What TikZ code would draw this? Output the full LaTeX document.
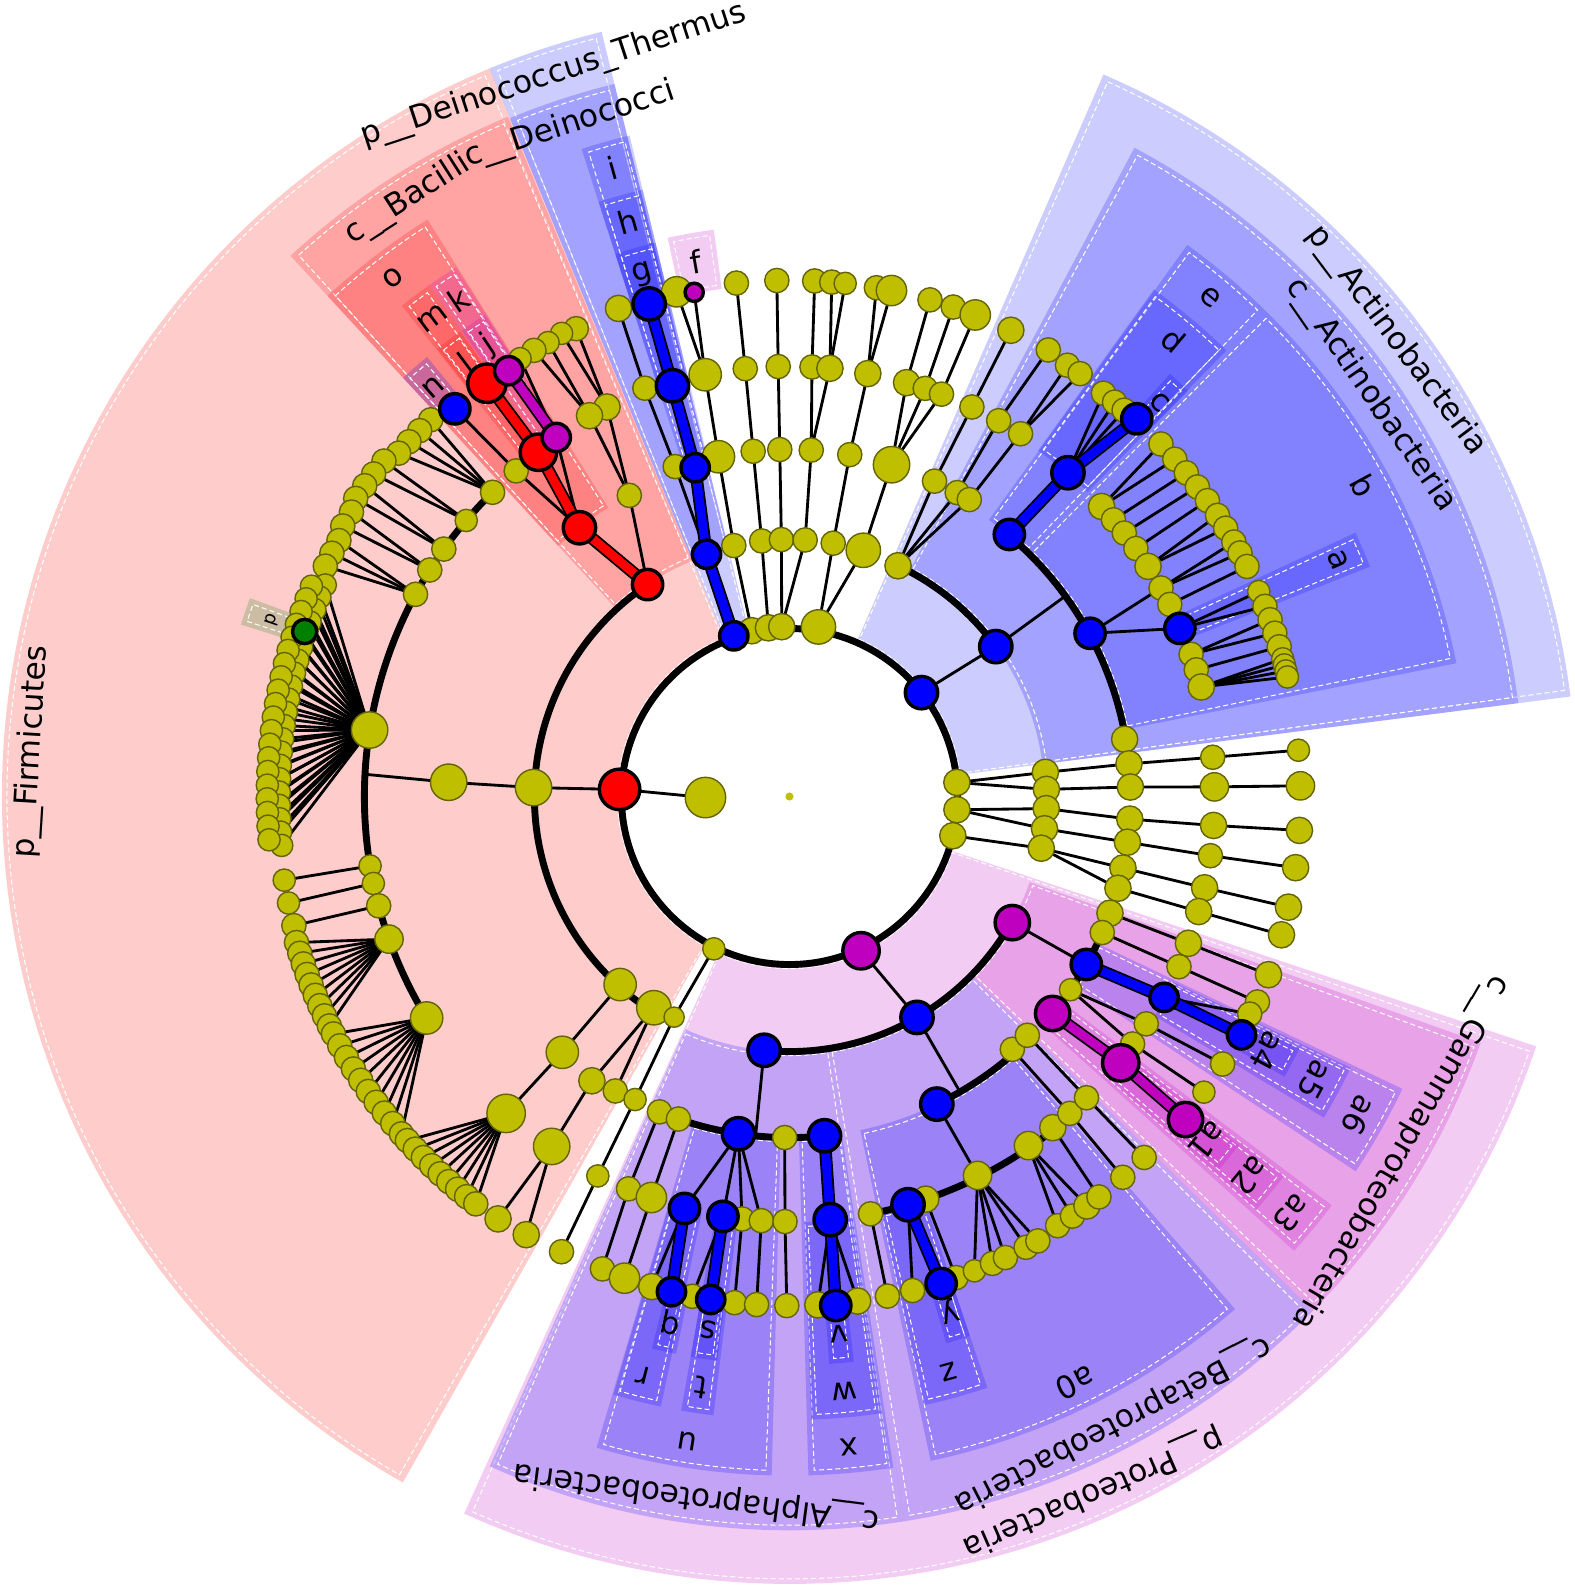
\documentclass[tikz,border=0pt]{standalone}
\usepackage{fontspec}
\setmainfont{DejaVu Sans}
\definecolor{olv}{RGB}{191,191,0}
\definecolor{olvd}{RGB}{100,100,0}
\definecolor{mag}{RGB}{191,0,191}
\definecolor{grn}{RGB}{0,128,0}
\definecolor{blu}{RGB}{0,0,255}
\definecolor{rd}{RGB}{255,0,0}
\tikzset{
  edge/.style={line width=1.4pt, draw=black},
  arcl/.style={line width=3.4pt, draw=black},
  ynode/.style={fill=olv, draw=olvd, line width=0.7pt},
  bnode/.style={draw=black, line width=1.7pt},
  lbl/.style={font=\fontsize{15.5}{18}\selectfont, inner sep=0pt},
  wb/.style={draw=white, line width=0.5pt, dash pattern=on 2.5pt off 1.5pt},
}
\newcommand{\wdg}[5]{%
  \fill[#5, fill opacity=0.2] (#1:#3) arc[start angle=#1, end angle=#2, radius=#3] -- (#2:#4) arc[start angle=#2, end angle=#1, radius=#4] -- cycle;
  \draw[wb] ({#1+0.5}:{#3+4}) arc[start angle={#1+0.5}, end angle={#2-0.5}, radius={#3+4}] -- ({#2-0.5}:{#4-5}) arc[start angle={#2-0.5}, end angle={#1+0.5}, radius={#4-5}] -- cycle;}
\newcommand{\edg}[4]{\draw[edge] (#1:#2) -- (#3:#4);}
\newcommand{\brc}[3]{\draw[arcl] (#1:#3) arc[start angle=#1, end angle=#2, radius=#3];}
\newcommand{\tke}[5]{\draw[line width=6.2pt, black] (#1:#2) -- (#3:#4); \draw[line width=4.4pt, #5] (#1:#2) -- (#3:#4);}
\newcommand{\ynd}[3]{\path[ynode] (#1:#2) circle (#3);}
\newcommand{\bnd}[4]{\path[bnode, fill=#4] (#1:#2) circle (#3);}
\newcommand{\lbl}[4]{\node[lbl, rotate={#2-90}] (#1) at (#2:#3) {#4};}
\begin{document}
\begin{tikzpicture}[x=0.5pt,y=0.5pt]
\useasboundingbox (0,0) rectangle (1556,1568);
\begin{scope}[shift={(780,781)}]
% ================= WEDGES =================
% phylum
\wdg{112.4}{240.6}{166}{778}{rd}
\wdg{103.8}{112.4}{166}{778}{blu}
\wdg{7.3}{66.5}{166}{778}{blu}
\wdg{-114.4}{-18.5}{166}{778}{mag}
% class
\wdg{112.5}{132.7}{252}{727}{rd}
\wdg{103.8}{112.4}{252}{725}{blu}
\wdg{7.3}{62}{252}{726}{blu}
\wdg{-114.1}{-81}{252}{725}{blu}
\wdg{-81}{-44.5}{252}{725}{blu}
\wdg{-44.5}{-19.6}{252}{725}{mag}
% order
\wdg{122.1}{132.7}{337}{673}{rd}
\wdg{103.6}{107.8}{337}{672}{blu}
\wdg{45.6}{54.2}{337}{672}{blu}
\wdg{11.3}{45.6}{337}{672}{blu}
\wdg{-106.5}{-91.5}{337}{671}{blu}
\wdg{-88.4}{-81.2}{337}{671}{blu}
\wdg{-78}{-49}{337}{671}{blu}
\wdg{-42}{-37}{337}{671}{mag}
\wdg{-33.5}{-25.5}{337}{671}{blu}
% family
\wdg{125.2}{128.3}{421}{618}{rd}
\wdg{122.2}{125.2}{421}{618}{mag}
\wdg{103.6}{107.8}{421}{617}{blu}
\wdg{45.6}{54.3}{421}{617}{blu}
\wdg{21.6}{25}{421}{617}{blu}
\wdg{-106.4}{-101.9}{421}{616}{blu}
\wdg{-100}{-97}{421}{616}{blu}
\wdg{-88}{-81.5}{421}{616}{blu}
\wdg{-77.5}{-71.5}{421}{616}{blu}
\wdg{-41.5}{-37.5}{421}{616}{mag}
\wdg{-31}{-25.8}{421}{616}{blu}
% genus
\wdg{125.3}{128.2}{506}{563}{rd}
\wdg{122.3}{125.1}{506}{563}{mag}
\wdg{129.5}{132.7}{506}{563}{blu}
\wdg{103.6}{107.8}{506}{563}{blu}
\wdg{97.6}{102.3}{506}{565}{mag}
\wdg{159.8}{162.6}{506}{568}{grn}
\wdg{45.5}{48}{506}{562}{blu}
\wdg{-104}{-101.5}{506}{562}{blu}
\wdg{-100}{-97.3}{506}{562}{blu}
\wdg{-86}{-83.5}{506}{562}{blu}
\wdg{-74}{-71.5}{506}{562}{blu}
\wdg{-41}{-37.8}{506}{562}{mag}
\wdg{-29.5}{-26.3}{506}{562}{blu}
% ================= LABELS =================
\lbl{pF}{176.6}{750}{p\_\_Firmicutes}
\lbl{pD}{108.1}{750}{p\_\_Deinococcus\_Thermus}
\lbl{pA}{36.9}{750}{p\_\_Actinobacteria}
\lbl{pP}{-66.45}{750}{p\_\_Proteobacteria}
\lbl{cB}{122.6}{700}{c\_\_Bacilli}
\lbl{cD}{108.1}{698}{c\_\_Deinococci}
\lbl{cA}{34.65}{698}{c\_\_Actinobacteria}
\lbl{cAl}{-97.55}{698}{c\_\_Alphaproteobacteria}
\lbl{cBe}{-62.75}{698}{c\_\_Betaproteobacteria}
\lbl{cG}{-30.2}{698}{c\_\_Gammaproteobacteria}
\lbl{la}{23.3}{590}{a}
\lbl{lb}{28.4}{645}{b}
\lbl{lc}{46.8}{535}{c}
\lbl{ld}{49.9}{590}{d}
\lbl{le}{49.9}{645}{e}
\lbl{lf}{99.95}{536}{f}
\lbl{lg}{105.7}{536}{g}
\lbl{lh}{105.7}{590}{h}
\lbl{li}{105.7}{645}{i}
\lbl{lj}{123.7}{536}{j}
\lbl{lk}{123.7}{590}{k}
\lbl{ll}{126.75}{536}{l}
\lbl{lm}{126.75}{590}{m}
\lbl{ln}{131.1}{536}{n}
\lbl{lo}{127.4}{645}{o}
\node[font=\fontsize{9}{10}\selectfont, inner sep=0pt, rotate=71.2] (lp) at (161.2:540) {p};
\lbl{lq}{-102.75}{533}{q}
\lbl{lr}{-104.15}{590}{r}
\lbl{ls}{-98.65}{533}{s}
\lbl{lt}{-98.5}{590}{t}
\lbl{lu}{-99}{645}{u}
\lbl{lv}{-84.75}{533}{v}
\lbl{lw}{-84.75}{590}{w}
\lbl{lx}{-84.8}{645}{x}
\lbl{ly}{-72.75}{533}{y}
\lbl{lz}{-74.5}{590}{z}
\lbl{la0}{-64}{645}{a0}
\lbl{la1}{-39.5}{535}{a1}
\lbl{la2}{-39.5}{590}{a2}
\lbl{la3}{-39.7}{645}{a3}
\lbl{la4}{-28}{535}{a4}
\lbl{la5}{-28.4}{590}{a5}
\lbl{la6}{-29.2}{645}{a6}
% ================= THIN EDGES =================
\edg{180.7}{83}{177.6}{166}
% Firmicutes
\edg{177.6}{166}{178}{252}
\edg{123.8}{252}{118}{337}
\edg{128}{337}{123}{423}
\edg{128}{337}{130}{420}
\edg{118}{337}{115.1}{425}
\edg{118}{337}{117.7}{425}
\edg{130}{420}{130.8}{506}
\edg{115.1}{425}{114.5}{508}
\edg{115.1}{425}{116.2}{510}
\edg{117.7}{425}{118}{508}
\edg{117.7}{425}{119.8}{508}
\edg{123}{423}{121.6}{508}
\edg{178}{252}{177.6}{337}
\edg{177.6}{337}{177}{420}
\foreach \a in {133.6,135.3,137,138.7} {\edg{134.3}{420}{\a}{514}}
\foreach \a in {140.4,142.2} {\edg{139.5}{420}{\a}{520}}
\foreach \a in {143.8,145.5} {\edg{144.4}{420}{\a}{520}}
\foreach \a in {147,148.8} {\edg{147.8}{420}{\a}{516}}
\foreach \a in {150.4,152,153.6} {\edg{151.6}{420}{\a}{512}}
\foreach \a in {155.5,157,...,185.5} {\edg{171}{420}{\a}{504}}
\foreach \a in {156.25,157.75,...,184.75} {\edg{171}{420}{\a}{516}}
\edg{189.4}{420}{189.4}{506}
\edg{191.8}{420}{192}{506}
\edg{194.9}{420}{194.6}{506}
\foreach \a in {196.5,197.75,...,206.5} {\edg{199.6}{420}{\a}{508}}
\foreach \a in {207.5,209,...,221} {\edg{211.4}{420}{\a}{508}}
\edg{228}{250}{228.4}{338}
\edg{228.4}{338}{228.2}{420}
\foreach \a in {222,223.3,...,233} {\edg{228.2}{420}{\a}{508}}
\edg{237.3}{248}{235.2}{342}
\edg{237.3}{248}{239.4}{338}
\edg{235.2}{342}{235.8}{418}
\edg{235.8}{418}{235.4}{507}
\edg{235.8}{418}{239}{505}
% gap phylum
\edg{-116.4}{166}{-117.6}{246}
\edg{-117.6}{246}{-117}{336}
\edg{-117}{336}{-116.8}{420}
\edg{-116.8}{420}{-116.6}{503}
% Deinococcus
\edg{108.9}{253}{109.1}{345}
\edg{109.1}{345}{109.5}{428}
\edg{109.5}{428}{109.3}{511}
% top region
\edg{102.8}{168}{102.5}{254}
\edg{97.1}{168}{96.2}{254}
\edg{92.6}{168}{91.8}{254}
\edg{92.6}{168}{86.5}{254}
\edg{80.3}{170}{80.2}{254}
\edg{80.3}{170}{73.3}{254}
\edg{102.5}{254}{101.8}{343}
\edg{96.2}{254}{96}{343}
\edg{91.8}{254}{91.6}{343}
\edg{86.5}{254}{86.4}{343}
\edg{80.2}{254}{80}{343}
\edg{73.3}{254}{72.9}{343}
\edg{101.8}{343}{101.3}{425}
\edg{96}{343}{95.9}{425}
\edg{91.6}{343}{91.5}{425}
\edg{86.4}{343}{87}{425}
\edg{86.4}{343}{84.6}{425}
\edg{80}{343}{79.5}{425}
\edg{72.9}{343}{74.2}{425}
\edg{72.9}{343}{71.6}{425}
\edg{72.9}{343}{69.3}{425}
\edg{101.3}{425}{102.6}{511}
\edg{101.3}{425}{100.7}{507}
\edg{95.9}{425}{95.9}{510}
\edg{91.5}{425}{91.4}{510}
\edg{87}{425}{87.2}{510}
\edg{84.6}{425}{85.3}{510}
\edg{84.6}{425}{83.8}{510}
\edg{79.5}{425}{80.3}{510}
\edg{79.5}{425}{78.6}{510}
\edg{74.2}{425}{74.2}{510}
\edg{71.6}{425}{71.5}{510}
\edg{69.3}{425}{68.9}{510}
% Actinobacteria
\edg{38.2}{166}{36}{252}
\edg{36}{252}{36}{337}
\edg{64.8}{252}{65.3}{343}
\edg{64.8}{252}{61.1}{343}
\edg{64.8}{252}{58.8}{343}
\edg{65.3}{343}{64.9}{425}
\edg{61.1}{343}{60.9}{425}
\edg{58.8}{343}{57.5}{425}
\edg{64.9}{425}{64.6}{510}
\edg{60.9}{425}{59.9}{510}
\edg{57.5}{425}{57.2}{507}
\edg{57.5}{425}{55.5}{507}
\edg{49.3}{422}{52.1}{505}
\edg{49.3}{422}{50.5}{505}
\edg{49.3}{422}{49.1}{505}
\edg{28.5}{338}{29.3}{420}
\edg{28.5}{338}{23.3}{420}
\edg{42.9}{421}{43.5}{506}
\edg{42.9}{421}{41.2}{506}
\edg{40.5}{421}{39.2}{506}
\edg{38.2}{421}{37.2}{506}
\edg{35.6}{421}{35.3}{506}
\edg{32.7}{421}{33.3}{506}
\edg{32.7}{421}{31.6}{506}
\edg{29.3}{421}{29.8}{506}
\edg{29.3}{421}{28.4}{506}
\edg{26.8}{421}{26.7}{506}
\edg{23.3}{420}{23.6}{506}
\edg{23.3}{420}{21.8}{506}
\edg{19.5}{421}{20.2}{506}
\edg{19.5}{421}{18.6}{506}
\edg{17.3}{421}{17}{506}
\foreach \a in {13.5,14.2,14.9,15.6} {\edg{14.9}{421}{\a}{506}}
% right unclassified
\edg{4.8}{166}{5.4}{254}
\edg{4.8}{166}{1.6}{254}
\edg{-4.5}{166}{-2.7}{254}
\edg{-4.5}{166}{-7.2}{254}
\edg{-13.5}{166}{-11.6}{254}
\edg{5.4}{254}{5.5}{337}
\edg{1.6}{254}{1.6}{337}
\edg{-2.7}{254}{-3.8}{337}
\edg{-7.2}{254}{-7.7}{337}
\edg{-11.6}{254}{-12.1}{337}
\edg{-11.6}{254}{-15.6}{337}
\foreach \o/\f/\g in {5.5/5.3/5.2, 1.6/1.3/1.2, -3.8/-3.9/-3.8, -7.7/-8/-8, -12.1/-12.4/-12.5, -15.6/-15.7/-15.7} {\edg{\o}{337}{\f}{420}\edg{\f}{420}{\g}{505}}
% Proteobacteria
\edg{-65.1}{168}{-60}{252}
\edg{-29.5}{253}{-29.5}{337}
\edg{-20}{337}{-20.2}{420}
\edg{-20.2}{420}{-20.4}{505}
\edg{-23.5}{337}{-23.6}{420}
\edg{-23.6}{420}{-23.7}{505}
\edg{-34.5}{337}{-32.5}{418}
\edg{-34.5}{337}{-35.8}{418}
\edg{-32.5}{418}{-31.7}{503}
\edg{-35.8}{418}{-35.5}{503}
\edg{-28.2}{420}{-25.3}{503}
\edg{-60}{252}{-60}{337}
\edg{-64.4}{337}{-63.6}{418}
\edg{-48.6}{333}{-48.5}{418}
\edg{-45.1}{333}{-45.4}{418}
\edg{-79}{420}{-78.9}{503}
\edg{-73.8}{420}{-76}{503}
\edg{-71.3}{420}{-70.9}{503}
\foreach \a in {-68.7,-66.5,-64.9,-62.3,-60.8} {\edg{-63.6}{418}{\a}{503}}
\foreach \a in {-58,-56,-54} {\edg{-55.6}{418}{\a}{500}}
\edg{-51.5}{418}{-52.3}{500}
\edg{-48.5}{418}{-48.8}{500}
\edg{-45.4}{418}{-45.5}{500}
\edg{-95.7}{252}{-95.7}{337}
\edg{-112.4}{337}{-112.3}{419}
\edg{-112.3}{419}{-111.6}{502}
\edg{-109}{337}{-109}{419}
\edg{-109}{419}{-108.9}{503}
\edg{-98.6}{337}{-104.3}{420}
\edg{-98.6}{337}{-99}{420}
\edg{-98.6}{337}{-96.4}{420}
\edg{-98.6}{337}{-93.8}{420}
\edg{-104.3}{420}{-105.7}{503}
\edg{-99}{420}{-101}{503}
\edg{-96.4}{420}{-96.2}{503}
\edg{-93.8}{420}{-93.7}{503}
\edg{-90.8}{337}{-90.6}{420}
\edg{-90.6}{420}{-90.3}{503}
\edg{-84.5}{420}{-86.8}{503}
\edg{-84.5}{420}{-82.3}{503}
% ================= ARCS =================
\draw[arcl] (0,0) circle (166);
\brc{123.8}{237.3}{252}
\brc{134.3}{211.4}{420}
\brc{36}{64.8}{252}
\brc{9.7}{50}{337}
\brc{14.9}{42.9}{421}
\brc{-95.7}{-29.5}{252}
\brc{-39.5}{-20}{337}
\brc{-64.4}{-45.1}{337}
\brc{-79}{-51.5}{420}
\brc{-112.4}{-84.1}{337}
% ================= COLOURED EDGES =================
\tke{109.1}{168}{108.9}{253}{blu}
\tke{108.9}{253}{106}{338}{blu}
\tke{106}{338}{105.9}{422}{blu}
\tke{105.9}{422}{105.9}{506}{blu}
\tke{50}{338}{49.3}{422}{blu}
\tke{49.3}{422}{47.4}{507}{blu}
\tke{-104.3}{420}{-103.4}{503}{blu}
\tke{-99}{420}{-98.9}{503}{blu}
\tke{-84.1}{337}{-84.5}{420}{blu}
\tke{-84.5}{420}{-84.8}{505}{blu}
\tke{-73.8}{420}{-72.7}{504}{blu}
\tke{-29.5}{337}{-28.2}{420}{blu}
\tke{-28.2}{420}{-27.8}{505}{blu}
\tke{123.8}{252}{128}{337}{rd}
\tke{128}{337}{126.1}{421}{rd}
\tke{126.1}{421}{126.2}{506}{rd}
\tke{123}{423}{123.4}{504}{mag}
\tke{-39.5}{337}{-38.8}{420}{mag}
\tke{-38.8}{420}{-39.2}{505}{mag}
% ================= YELLOW NODES =================
\path[fill=olv] (0,0) circle (4);
\ynd{180.7}{83}{20}
\foreach \a/\r/\s in {102.8/168/13, 97.1/168/13, 92.6/168/13, 80.3/170/17, 4.8/166/13, -4.5/166/13, -13.5/166/13, -116.4/168/11,
  178/253/18, 228/250/16, 237.3/248/17,
  118/337/12, 115.1/425/13, 117.7/425/13, 130/420/12, 114.5/508/12, 116.2/510/11, 118/508/11, 119.8/508/12, 121.6/508/11,
  177.6/337/18, 134.3/420/12, 139.5/420/11, 144.4/420/12, 147.8/420/12, 151.6/420/12, 171/420/18, 189.4/420/11, 191.8/420/11, 194.9/420/12, 199.6/420/14, 211.4/420/16,
  228.4/338/16, 228.2/420/19, 235.2/342/13, 239.4/338/12, 235.8/418/18, 235.4/507/13, 239/505/13,
  -117.6/246/10, -117/336/11, -116.8/420/11, -116.6/503/12,
  109.1/345/12, 109.5/428/12, 109.3/511/13,
  102.5/254/12, 96.2/254/12, 91.8/254/12, 86.5/254/12, 80.2/254/12, 73.3/254/17,
  101.8/343/16, 96/343/12, 91.6/343/12, 86.4/343/12, 80/343/12, 72.9/343/18,
  101.3/425/16, 95.9/425/12, 91.5/425/12, 87/425/12, 84.6/425/13, 79.5/425/13, 74.2/425/13, 71.6/425/12, 69.3/425/12,
  102.6/511/15, 95.9/510/12, 91.4/510/12, 87.2/510/12, 85.3/510/12, 83.8/510/11, 80.3/510/12, 78.6/510/15, 74.2/510/12, 71.5/510/12, 68.9/510/15,
  64.8/252/13, 65.3/343/12, 61.1/343/12, 58.8/343/12, 64.9/425/12, 60.9/425/12, 57.5/425/12, 64.6/510/13, 59.9/510/12, 57.2/507/12, 55.5/507/12, 52.1/505/12, 50.5/505/12, 49.1/505/12, 9.7/336/13,
  42.9/421/13, 40.5/421/12, 38.2/421/12, 35.6/421/12, 32.7/421/13, 29.3/421/12, 26.8/421/12, 19.5/421/12, 17.3/421/12, 14.9/421/13,
  43.5/506/12, 41.2/506/12, 39.2/506/12, 37.2/506/12, 35.3/506/12, 33.3/506/12, 31.6/506/12, 29.8/506/12, 28.4/506/12, 26.7/506/12, 23.6/506/11, 21.8/506/12, 20.2/506/12, 18.6/506/12, 17/506/12, 15.6/506/11, 14.9/506/11, 14.2/506/11, 13.5/506/11,
  5.4/254/13, 1.6/254/13, -2.7/254/13, -7.2/254/13, -11.6/254/13,
  5.5/337/13, 1.6/337/13, -3.8/337/13, -7.7/337/13, -12.1/337/13, -15.6/337/13,
  5.3/420/12, 1.3/420/14, -3.9/420/13, -8/420/12, -12.4/420/13, -15.7/420/13,
  5.2/505/11, 1.2/505/14, -3.8/505/13, -8/505/13, -12.5/505/13, -15.7/505/13,
  -20/337/13, -23.5/337/12, -34.5/337/11, -20.2/420/13, -23.6/420/12, -32.5/418/12, -35.8/418/12, -20.4/505/13, -23.7/505/12, -31.7/503/12, -35.5/503/11, -25.3/503/12,
  -48.6/333/12, -45.1/333/12, -79/420/12, -71.3/420/13, -63.6/418/14, -55.6/418/14, -51.5/418/13, -48.5/418/12, -45.4/418/12,
  -78.9/503/12, -76/503/12, -70.9/503/12, -68.7/503/11, -66.5/503/12, -64.9/503/12, -62.3/503/12, -60.8/503/12, -58/500/12, -56/500/12, -54/500/13, -52.3/500/12, -48.8/500/12, -45.5/500/12,
  -112.4/337/12, -109/337/12, -90.8/337/12, -112.3/419/12, -109/419/15, -96.4/420/12, -93.8/420/12, -90.6/420/12,
  -111.6/502/12, -108.9/503/15, -105.7/503/13, -101/503/12, -96.2/503/12, -93.7/503/12, -90.3/503/12, -86.8/503/13, -82.3/503/13}
  {\ynd{\a}{\r}{\s}}
% genus fans (Firmicutes)
\foreach \a in {133.6,135.3,137,138.7} {\ynd{\a}{514}{12}}
\foreach \a in {140.4,142.2} {\ynd{\a}{520}{12}}
\foreach \a in {143.8,145.5} {\ynd{\a}{520}{12}}
\foreach \a in {147,148.8} {\ynd{\a}{516}{12}}
\foreach \a in {150.4,152,153.6} {\ynd{\a}{512}{12}}
\foreach \a in {155.5,157,...,185.5} {\ynd{\a}{504}{11}}
\foreach \a in {156.25,157.75,...,184.75} {\ynd{\a}{516}{11}}
\ynd{189.4}{506}{11}
\ynd{192}{506}{11}
\ynd{194.6}{506}{12}
\foreach \a in {196.5,197.75,...,206.5} {\ynd{\a}{508}{12}}
\foreach \a in {207.5,209,...,221} {\ynd{\a}{508}{12}}
\foreach \a in {222,223.3,...,233} {\ynd{\a}{508}{12}}
% ================= COLOURED NODES =================
\foreach \a/\r/\s in {177.6/168/20, 123.8/252/15, 128/337/16, 126.1/421/18, 126.2/506/19} {\bnd{\a}{\r}{\s}{rd}}
\foreach \a/\r/\s in {123/423/14, 123.4/504/14, 100.7/507/9, -65.1/168/18, -29.5/253/17, -39.5/337/17, -38.8/420/18, -39.2/505/17} {\bnd{\a}{\r}{\s}{mag}}
\foreach \a/\r/\s in {109.1/168/14, 108.9/253/14, 106/338/14, 105.9/422/16, 105.9/506/16, 130.8/506/15, 38.2/166/16, 36/252/16, 50/338/15, 49.3/422/16, 47.4/507/15, 28.5/338/15, 23.3/420/15,
  -95.7/252/16, -60/252/16, -98.6/337/16, -84.1/337/16, -104.3/420/15, -99/420/15, -84.5/420/16, -103.4/503/14, -98.9/503/14, -84.8/505/15,
  -64.4/337/16, -73.8/420/16, -72.7/504/15, -29.5/337/15, -28.2/420/14, -27.8/505/14} {\bnd{\a}{\r}{\s}{blu}}
\bnd{161.2}{506}{12}{grn}
\end{scope}
\end{tikzpicture}
\end{document}
